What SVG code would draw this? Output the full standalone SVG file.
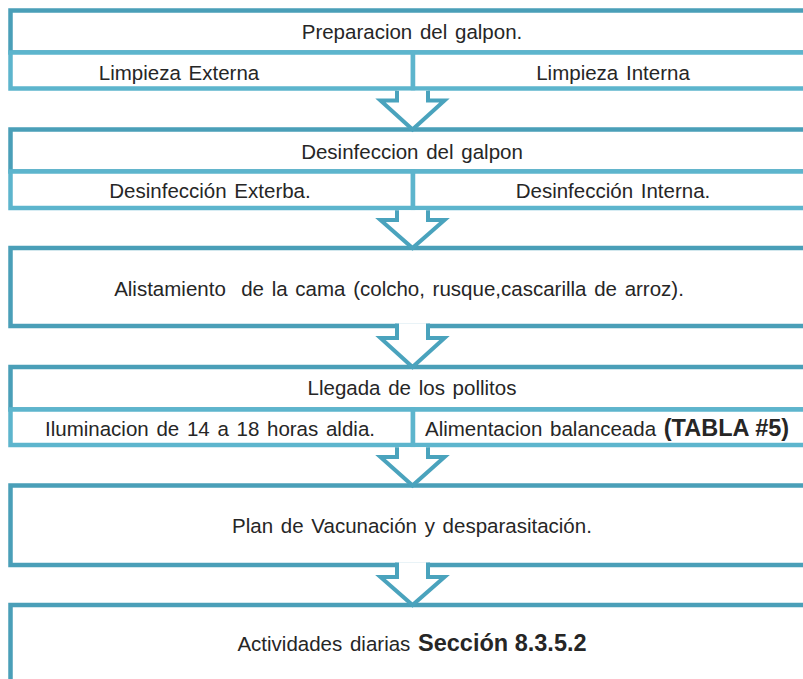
<svg xmlns="http://www.w3.org/2000/svg" width="803" height="679" viewBox="0 0 803 679">
<style>
.outer{fill:#ffffff;stroke:#4a9fb8;stroke-width:4.5}
.inner{fill:#ffffff;stroke:#5db5cd;stroke-width:4.5}
.arrow{fill:#ffffff;stroke:#4aa3bd;stroke-width:4;stroke-linejoin:miter}
text{font-family:"Liberation Sans",Arial,sans-serif;font-size:20.5px;fill:#262626;text-anchor:middle;dominant-baseline:central;word-spacing:2px}
.b{font-weight:bold;font-size:23.5px;word-spacing:0}
</style>
<rect width="803" height="679" fill="#ffffff"/>
<g id="nodes">
<g id="n1">
<rect class="outer" x="10.5" y="10.5" width="830" height="42"/>
<rect class="inner" x="10.5" y="52.5" width="402.5" height="36"/>
<rect class="inner" x="413" y="52.5" width="430" height="36"/>
<text x="412" y="31">Preparacion del galpon.</text>
<text x="179" y="72">Limpieza Externa</text>
<text x="613" y="72">Limpieza Interna</text>
</g>
<g id="n2">
<rect class="outer" x="10.5" y="129.5" width="830" height="42"/>
<rect class="inner" x="10.5" y="171.5" width="402.5" height="36.5"/>
<rect class="inner" x="413" y="171.5" width="430" height="36.5"/>
<text x="412" y="151">Desinfeccion del galpon</text>
<text x="210" y="190">Desinfección Exterba.</text>
<text x="613" y="190">Desinfección Interna.</text>
</g>
<g id="n3">
<rect class="outer" x="10.5" y="248" width="830" height="78"/>
<text x="399" y="288" xml:space="preserve">Alistamiento  de la cama (colcho, rusque,cascarilla de arroz).</text>
</g>
<g id="n4">
<rect class="outer" x="10.5" y="367" width="830" height="42.5"/>
<rect class="inner" x="10.5" y="409.5" width="402.5" height="35.5"/>
<rect class="inner" x="413" y="409.5" width="430" height="35.5"/>
<text x="412" y="387">Llegada de los pollitos</text>
<text x="210" y="428">Iluminacion de 14 a 18 horas aldia.</text>
<text x="425" y="428" style="text-anchor:start">Alimentacion balanceada <tspan class="b">(TABLA #5)</tspan></text>
</g>
<g id="n5">
<rect class="outer" x="10.5" y="485.5" width="830" height="79.5"/>
<text x="412" y="525">Plan de Vacunación y desparasitación.</text>
</g>
<g id="n6">
<rect class="outer" x="10.5" y="605" width="830" height="120"/>
<text x="412" y="643">Actividades diarias <tspan class="b">Sección 8.3.5.2</tspan></text>
</g>
</g>
<g id="connectors">
<path class="arrow" d="M397,90.8 V100.5 H380.5 L412.5,129.5 L444.5,100.5 H428 V90.8"/>
<path class="arrow" d="M397,210.3 V220 H380.5 L412.5,248 L444.5,220 H428 V210.3"/>
<path class="arrow" d="M397,323.5 V338 H380.5 L412.5,367 L444.5,338 H428 V323.5"/>
<path class="arrow" d="M397,447.3 V457 H380.5 L412.5,485.5 L444.5,457 H428 V447.3"/>
<path class="arrow" d="M397,562.5 V577 H380.5 L412.5,605 L444.5,577 H428 V562.5"/>
</g>
</svg>
